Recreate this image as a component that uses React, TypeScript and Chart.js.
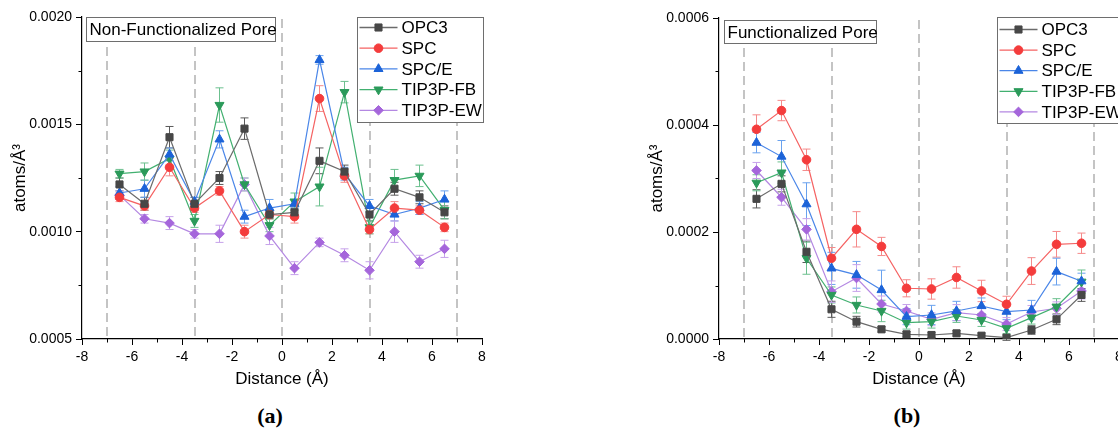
import React, { useEffect, useRef } from 'react';
import { Chart, registerables } from 'chart.js';

Chart.register(...registerables);

// ---------- data ----------
const distances = [-6.5, -5.5, -4.5, -3.5, -2.5, -1.5, -0.5, 0.5, 1.5, 2.5, 3.5, 4.5, 5.5, 6.5];
const seriesNames = ['OPC3', 'SPC', 'SPC/E', 'TIP3P-FB', 'TIP3P-EW'];
const dividerPositions = [-7, -3.5, 0, 3.5, 7];

// Panel (a): Non-Functionalized Pore
const opc3A = [0.00122, 0.00113, 0.00144, 0.00113, 0.00125, 0.00148, 0.00108, 0.00109, 0.00133, 0.00128, 0.00108, 0.00120, 0.00116, 0.00109];
const spcA = [0.00116, 0.00112, 0.00130, 0.00111, 0.00119, 0.00100, 0.00108, 0.00107, 0.00162, 0.00126, 0.00101, 0.00111, 0.00110, 0.00102];
const spceA = [0.00118, 0.00120, 0.00136, 0.00114, 0.00143, 0.00107, 0.00111, 0.00113, 0.00180, 0.00127, 0.00112, 0.00108, 0.00111, 0.00115];
const fbA = [0.00127, 0.00128, 0.00134, 0.00105, 0.00159, 0.00122, 0.00103, 0.00114, 0.00121, 0.00165, 0.00102, 0.00124, 0.00126, 0.00110];
const ewA = [0.00117, 0.00106, 0.00104, 0.00099, 0.00099, 0.00122, 0.00098, 0.00083, 0.00095, 0.00089, 0.00082, 0.00100, 0.00086, 0.00092];

const opc3ErrA = [0.00003, 0.00003, 0.00005, 0.00003, 0.00003, 0.00005, 0.00002, 0.00002, 0.00006, 0.00003, 0.00003, 0.00003, 0.00003, 0.00003];
const spcErrA = [0.00002, 0.00002, 0.00004, 0.00002, 0.00002, 0.00003, 0.00002, 0.00003, 0.00006, 0.00003, 0.00002, 0.00003, 0.00002, 0.00002];
const spceErrA = [0.00003, 0.00004, 0.00003, 0.00002, 0.00004, 0.00003, 0.00004, 0.00002, 0.00002, 0.00003, 0.00003, 0.00003, 0.00003, 0.00004];
const fbErrA = [0.00002, 0.00004, 0.00004, 0.00003, 0.00008, 0.00003, 0.00003, 0.00004, 0.00009, 0.00005, 0.00003, 0.00005, 0.00005, 0.00004];
const ewErrA = [0.00002, 0.00002, 0.00003, 0.00002, 0.00004, 0.00003, 0.00004, 0.00003, 0.00002, 0.00003, 0.00004, 0.00005, 0.00003, 0.00004];

// Panel (b): Functionalized Pore
const opc3B = [0.000262, 0.000290, 0.000163, 0.0000555, 0.0000324, 0.0000181, 0.0000088, 0.0000075, 0.0000106, 0.0000062, 0.0000025, 0.0000168, 0.0000368, 0.0000823];
const spcB = [0.000392, 0.000427, 0.000335, 0.000151, 0.000205, 0.000173, 0.0000948, 0.0000935, 0.000115, 0.0000898, 0.0000649, 0.000127, 0.000177, 0.000179];
const spceB = [0.000367, 0.000341, 0.000252, 0.000132, 0.000120, 0.0000916, 0.0000417, 0.0000449, 0.0000524, 0.0000617, 0.0000511, 0.0000542, 0.000126, 0.000108];
const fbB = [0.000292, 0.000311, 0.000151, 0.0000823, 0.0000636, 0.0000524, 0.0000305, 0.0000324, 0.0000430, 0.0000355, 0.0000200, 0.0000399, 0.0000604, 0.000107];
const ewB = [0.000315, 0.000265, 0.000205, 0.0000885, 0.000114, 0.0000654, 0.0000524, 0.0000368, 0.0000493, 0.0000449, 0.0000280, 0.0000505, 0.0000574, 0.0000898];

const opc3ErrB = [0.000017, 0.000015, 0.000020, 0.000015, 0.000010, 0.000005, 0.000005, 0.000005, 0.000005, 0.000005, 0.000005, 0.000008, 0.000010, 0.000012];
const spcErrB = [0.000027, 0.000019, 0.000020, 0.000020, 0.000033, 0.000017, 0.000016, 0.000019, 0.000020, 0.000020, 0.000015, 0.000025, 0.000024, 0.000019];
const spceErrB = [0.000019, 0.000030, 0.000040, 0.000030, 0.000025, 0.000037, 0.000015, 0.000018, 0.000018, 0.000015, 0.000015, 0.000018, 0.000025, 0.000015];
const fbErrB = [0.000015, 0.000020, 0.000030, 0.000015, 0.000015, 0.000020, 0.000012, 0.000012, 0.000012, 0.000012, 0.000010, 0.000012, 0.000015, 0.000022];
const ewErrB = [0.000015, 0.000015, 0.000020, 0.000020, 0.000025, 0.000015, 0.000012, 0.000012, 0.000015, 0.000012, 0.000012, 0.000012, 0.000012, 0.000015];

// ---------- styles ----------
const markerColors = ['#474747', '#f43c3c', '#1c63d8', '#2b9a5a', '#a566db'];
const lineColors = ['#6b6b6b', '#f56262', '#4a86e8', '#42b070', '#b488e2'];
const errColors = ['#5a5a5a', '#f58a8a', '#6aa2ee', '#6cc08f', '#c6a2ea'];
const pointStyles = ['rect', 'circle', 'triangle', 'triangle', 'rectRot'];
const pointRotations = [0, 0, 0, 180, 0];
const pointRadii = [5, 4.3, 5.2, 5.2, 4.8];

const FONT = '"Liberation Sans", Arial, Helvetica, sans-serif';
Chart.defaults.font.family = FONT;

function drawMarker(ctx: CanvasRenderingContext2D, style: string, x: number, y: number, r: number, rot: number, color: string) {
  ctx.save();
  ctx.beginPath();
  if (style === 'circle') {
    ctx.arc(x, y, r, 0, Math.PI * 2);
  } else if (style === 'rect') {
    const s = r * Math.SQRT1_2;
    ctx.rect(x - s, y - s, 2 * s, 2 * s);
  } else if (style === 'triangle') {
    let rad = (rot * Math.PI) / 180;
    ctx.moveTo(x + Math.sin(rad) * r, y - Math.cos(rad) * r);
    rad += (2 * Math.PI) / 3;
    ctx.lineTo(x + Math.sin(rad) * r, y - Math.cos(rad) * r);
    rad += (2 * Math.PI) / 3;
    ctx.lineTo(x + Math.sin(rad) * r, y - Math.cos(rad) * r);
    ctx.closePath();
  } else {
    ctx.moveTo(x, y - r);
    ctx.lineTo(x + r, y);
    ctx.lineTo(x, y + r);
    ctx.lineTo(x - r, y);
    ctx.closePath();
  }
  ctx.fillStyle = color;
  ctx.fill();
  ctx.lineWidth = 1;
  ctx.strokeStyle = color;
  ctx.stroke();
  ctx.restore();
}

type PanelCfg = {
  id: string;
  title: string;
  values: number[][];
  errors: number[][];
  yMin: number;
  yMax: number;
  yStep: number;
  padTop: number;
  padRight: number;
  titleBox: { dx: number; dy: number; w: number; h: number };
  legendBox: { dx: number; dy: number; w: number; h: number; row0: number; rowStep: number };
};

function makePlugin(cfg: PanelCfg) {
  return {
    id: 'decor_' + cfg.id,
    beforeDatasetsDraw(chart: any) {
      const { ctx, chartArea, scales } = chart;
      const xs = scales.x;
      const ys = scales.y;
      // dashed dividers
      ctx.save();
      ctx.strokeStyle = '#c4c4c4';
      ctx.lineWidth = 2;
      ctx.setLineDash([9, 5]);
      dividerPositions.forEach((d) => {
        const px = Math.round(xs.getPixelForValue(d));
        ctx.beginPath();
        ctx.moveTo(px, chartArea.top + 2);
        ctx.lineTo(px, chartArea.bottom);
        ctx.stroke();
      });
      ctx.restore();
      // error bars
      ctx.save();
      ctx.lineWidth = 1;
      cfg.values.forEach((vals, si) => {
        ctx.strokeStyle = errColors[si];
        vals.forEach((v, j) => {
          const e = cfg.errors[si][j];
          const px = xs.getPixelForValue(distances[j]);
          const y1 = ys.getPixelForValue(v + e);
          const y2 = ys.getPixelForValue(v - e);
          ctx.beginPath();
          ctx.moveTo(px, y1);
          ctx.lineTo(px, y2);
          ctx.moveTo(px - 4, y1);
          ctx.lineTo(px + 4, y1);
          ctx.moveTo(px - 4, y2);
          ctx.lineTo(px + 4, y2);
          ctx.stroke();
        });
      });
      ctx.restore();
    },
    afterDraw(chart: any) {
      const { ctx, chartArea, scales } = chart;
      const xs = scales.x;
      const ys = scales.y;
      ctx.save();
      // minor ticks
      ctx.strokeStyle = '#000';
      ctx.lineWidth = 1;
      for (let v = -7; v <= 7; v += 2) {
        const px = Math.round(xs.getPixelForValue(v)) + 0.5;
        ctx.beginPath();
        ctx.moveTo(px, chartArea.bottom);
        ctx.lineTo(px, chartArea.bottom + 3.5);
        ctx.stroke();
      }
      for (let v = cfg.yMin + cfg.yStep / 2; v < cfg.yMax; v += cfg.yStep) {
        const py = Math.round(ys.getPixelForValue(v)) + 0.5;
        ctx.beginPath();
        ctx.moveTo(chartArea.left - 3.5, py);
        ctx.lineTo(chartArea.left, py);
        ctx.stroke();
      }
      // title box
      const tb = cfg.titleBox;
      const tx = Math.round(chartArea.left + tb.dx) + 0.5;
      const ty = Math.round(chartArea.top + tb.dy) + 0.5;
      ctx.fillStyle = '#fff';
      ctx.fillRect(tx, ty, tb.w, tb.h);
      ctx.strokeStyle = '#6e6e6e';
      ctx.strokeRect(tx, ty, tb.w, tb.h);
      ctx.fillStyle = '#000';
      ctx.font = '17px ' + FONT;
      ctx.textBaseline = 'middle';
      ctx.textAlign = 'left';
      ctx.fillText(cfg.title, tx + 3, ty + tb.h / 2 + 1);
      // legend box
      const lb = cfg.legendBox;
      const lx = Math.round(chartArea.left + lb.dx) + 0.5;
      const ly = Math.round(chartArea.top + lb.dy) + 0.5;
      ctx.fillStyle = '#fff';
      ctx.fillRect(lx, ly, lb.w, lb.h);
      ctx.strokeStyle = '#6e6e6e';
      ctx.strokeRect(lx, ly, lb.w, lb.h);
      seriesNames.forEach((name, si) => {
        const ry = ly + lb.row0 + si * lb.rowStep;
        ctx.strokeStyle = lineColors[si];
        ctx.lineWidth = 1.3;
        ctx.beginPath();
        ctx.moveTo(lx + 2, ry);
        ctx.lineTo(lx + 40, ry);
        ctx.stroke();
        drawMarker(ctx, pointStyles[si], lx + 21, ry, pointRadii[si], pointRotations[si], markerColors[si]);
        ctx.fillStyle = '#000';
        ctx.font = '17px ' + FONT;
        ctx.textBaseline = 'middle';
        ctx.fillText(name, lx + 44, ry + 1);
      });
      ctx.restore();
    },
  };
}

function buildChart(canvas: HTMLCanvasElement, cfg: PanelCfg) {
  const datasets = cfg.values.map((vals, si) => ({
    label: seriesNames[si],
    data: vals.map((v, j) => ({ x: distances[j], y: v })),
    borderColor: lineColors[si],
    backgroundColor: markerColors[si],
    pointBackgroundColor: markerColors[si],
    pointBorderColor: markerColors[si],
    pointBorderWidth: 1,
    pointStyle: pointStyles[si],
    pointRotation: pointRotations[si],
    pointRadius: pointRadii[si],
    borderWidth: 1.2,
    tension: 0,
    fill: false,
  }));
  return new Chart(canvas, {
    type: 'line',
    data: { datasets },
    plugins: [makePlugin(cfg)],
    options: {
      responsive: false,
      animation: false,
      devicePixelRatio: 1,
      layout: { padding: { top: cfg.padTop, left: 0, right: cfg.padRight, bottom: 0 } },
      plugins: { legend: { display: false }, tooltip: { enabled: false } },
      scales: {
        x: {
          type: 'linear',
          min: -8,
          max: 8,
          afterFit: (s: any) => {
            s.height = 61;
          },
          ticks: {
            stepSize: 2,
            color: '#000',
            font: { size: 14, family: FONT },
            padding: 4,
            maxRotation: 0,
            autoSkip: false,
            callback: (v: any) => String(v),
          },
          grid: { drawOnChartArea: false, drawTicks: true, tickLength: 6, tickColor: '#000', tickWidth: 1 },
          border: { color: '#000', width: 1.2 },
          title: {
            display: true,
            text: 'Distance (Å)',
            color: '#000',
            font: { size: 17, family: FONT },
            padding: { top: 0, bottom: 10 },
          },
        },
        y: {
          type: 'linear',
          min: cfg.yMin,
          max: cfg.yMax,
          afterFit: (s: any) => {
            s.width = 82;
          },
          ticks: {
            stepSize: cfg.yStep,
            color: '#000',
            font: { size: 14, family: FONT },
            padding: 4,
            callback: (v: any) => Number(v).toFixed(4),
          },
          grid: { drawOnChartArea: false, drawTicks: true, tickLength: 6, tickColor: '#000', tickWidth: 1 },
          border: { color: '#000', width: 1.2 },
          title: {
            display: true,
            text: 'atoms/Å³',
            color: '#000',
            font: { size: 17, family: FONT },
            padding: { top: 10, bottom: 0 },
          },
        },
      },
    } as any,
  });
}

const panelA: PanelCfg = {
  id: 'a',
  title: 'Non-Functionalized Pore',
  values: [opc3A, spcA, spceA, fbA, ewA],
  errors: [opc3ErrA, spcErrA, spceErrA, fbErrA, ewErrA],
  yMin: 0.0005,
  yMax: 0.002,
  yStep: 0.0005,
  padTop: 17,
  padRight: 78,
  titleBox: { dx: 4, dy: 0, w: 189, h: 24 },
  legendBox: { dx: 275, dy: 0, w: 126, h: 105 },
} as any;
(panelA.legendBox as any).row0 = 10;
(panelA.legendBox as any).rowStep = 20.7;

const panelB: PanelCfg = {
  id: 'b',
  title: 'Functionalized Pore',
  values: [opc3B, spcB, spceB, fbB, ewB],
  errors: [opc3ErrB, spcErrB, spceErrB, fbErrB, ewErrB],
  yMin: 0,
  yMax: 0.0006,
  yStep: 0.0002,
  padTop: 18,
  padRight: 8,
  titleBox: { dx: 5, dy: 2, w: 152, h: 23 },
  legendBox: { dx: 278, dy: -1, w: 126, h: 106, row0: 12, rowStep: 20.6 },
};

export default function App() {
  const refA = useRef<HTMLCanvasElement | null>(null);
  const refB = useRef<HTMLCanvasElement | null>(null);

  useEffect(() => {
    const ca = buildChart(refA.current!, panelA);
    const cb = buildChart(refB.current!, panelB);
    return () => {
      ca.destroy();
      cb.destroy();
    };
  }, []);

  const captionStyle: React.CSSProperties = {
    position: 'absolute',
    top: 403,
    transform: 'translateX(-50%)',
    font: 'bold 22px "Liberation Serif", "Times New Roman", serif',
    lineHeight: '26px',
    color: '#000',
  };

  return (
    <div
      style={{
        position: 'absolute',
        left: 0,
        top: 0,
        width: 1118,
        height: 429,
        overflow: 'hidden',
        background: '#fff',
      }}
    >
      <canvas ref={refA} width={560} height={400} style={{ position: 'absolute', left: 0, top: 0 }} />
      <canvas ref={refB} width={490} height={400} style={{ position: 'absolute', left: 637, top: 0 }} />
      <div style={{ ...captionStyle, left: 270 }}>(a)</div>
      <div style={{ ...captionStyle, left: 907 }}>(b)</div>
    </div>
  );
}
